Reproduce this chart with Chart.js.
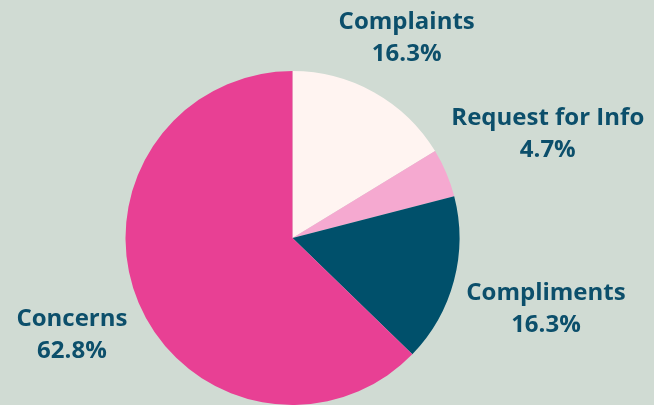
<!DOCTYPE html>
<html>
<head>
<meta charset="utf-8">
<script src="https://cdn.jsdelivr.net/npm/chart.js@4/dist/chart.umd.min.js"></script>
<style>
  html, body { margin: 0; padding: 0; background: #d0dbd3; overflow: hidden; }
  #wrap { width: 654px; height: 405px; position: relative; }
</style>
</head>
<body>
<div id="wrap"><canvas id="pieChart"></canvas></div>
<script>
// datos del gráfico
const categories = ["Complaints", "Request for Info", "Compliments", "Concerns"];
const shares = [16.3, 4.7, 16.3, 62.8];
const sliceColors = ["#fff4f1", "#f5a9d0", "#00506b", "#e84094"];

const labelFont = "bold 24px 'Open Sans', sans-serif";
const labelColor = "#0c4f6b";
const lineHeight = 32;

// etiquetas fuera de la torta, en el ángulo medio de cada porción
const outsideLabels = {
  id: "outsideLabels",
  afterDatasetsDraw(chart) {
    const ctx = chart.ctx;
    const meta = chart.getDatasetMeta(0);
    ctx.save();
    ctx.font = labelFont;
    ctx.fillStyle = labelColor;
    ctx.textAlign = "center";
    ctx.textBaseline = "middle";
    meta.data.forEach((arc, i) => {
      const p = arc.getProps(["x", "y", "startAngle", "endAngle", "outerRadius"], true);
      const mid = (p.startAngle + p.endAngle) / 2;
      const lines = [categories[i], shares[i].toFixed(1) + "%"];
      const halfW = Math.max(...lines.map((t) => ctx.measureText(t).width)) / 2;
      const cx = Math.cos(mid), cy = Math.sin(mid);
      const dist = p.outerRadius + 12 + Math.abs(cx) * halfW + Math.abs(cy) * lineHeight * 0.75;
      const x = p.x + cx * dist;
      const y = p.y + cy * dist + 4;
      ctx.fillText(lines[0], x, y - lineHeight / 2);
      ctx.fillText(lines[1], x, y + lineHeight / 2);
    });
    ctx.restore();
  },
};

new Chart(document.getElementById("pieChart").getContext("2d"), {
  type: "pie",
  data: {
    labels: categories,
    datasets: [
      {
        data: shares,
        backgroundColor: sliceColors,
        borderWidth: 0,
      },
    ],
  },
  options: {
    responsive: true,
    maintainAspectRatio: false,
    animation: false,
    layout: { padding: { top: 71, bottom: 0, left: 0, right: 69 } },
    plugins: {
      legend: { display: false },
      tooltip: { enabled: false },
    },
  },
  plugins: [outsideLabels],
});
</script>
</body>
</html>
